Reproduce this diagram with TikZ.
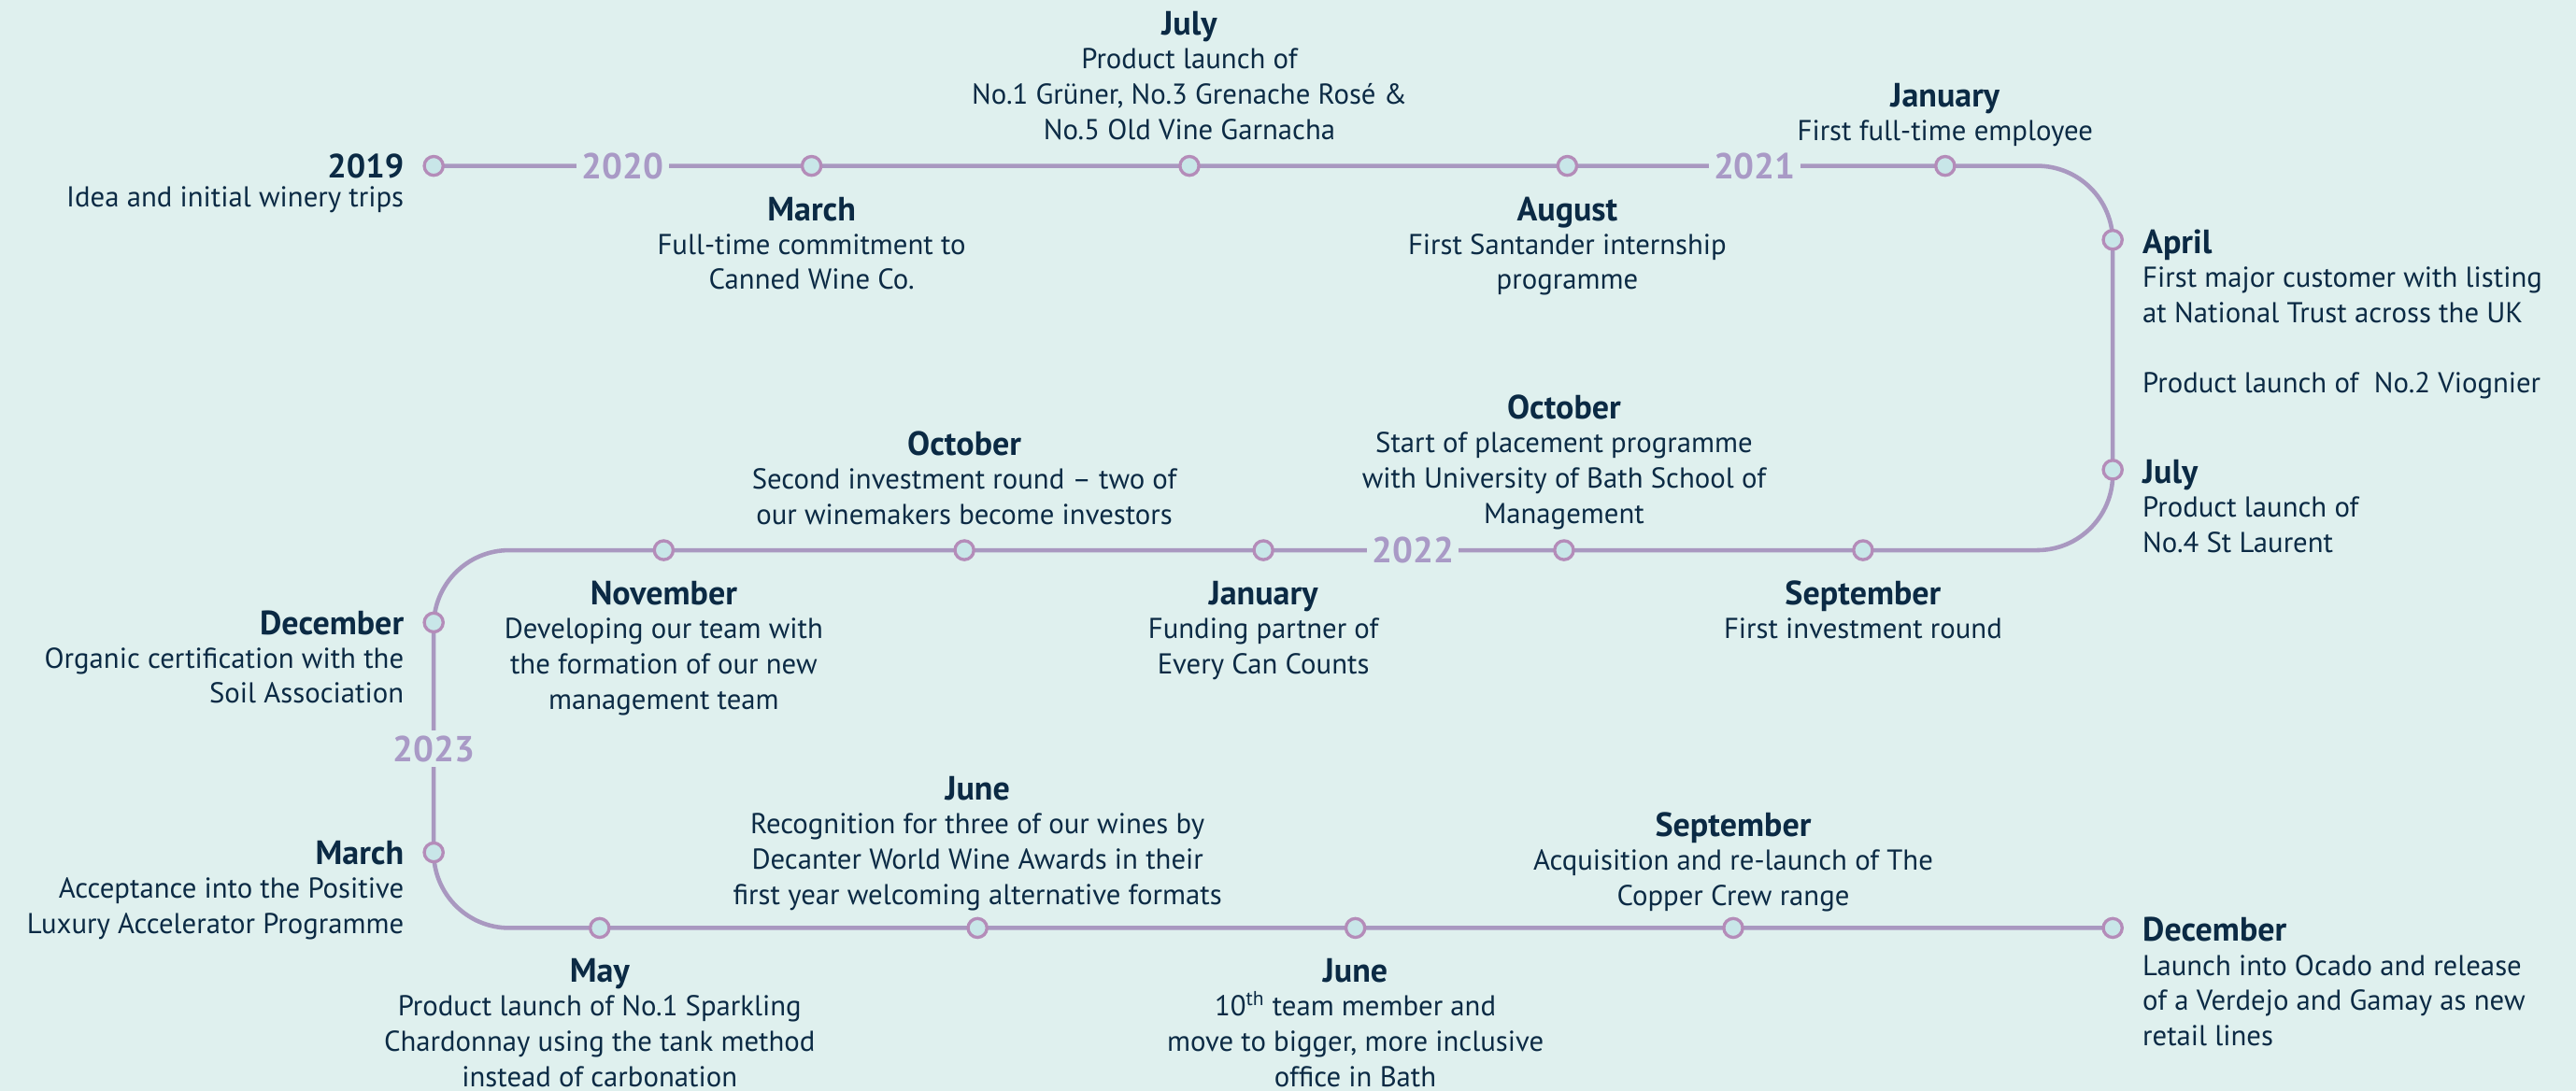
\documentclass[tikz,border=0pt]{standalone}
\usepackage{fontspec}
\setmainfont{PT Sans}
\usetikzlibrary{backgrounds}
\definecolor{bgc}{RGB}{223,240,238}
\definecolor{linec}{RGB}{169,152,192}
\definecolor{ringc}{RGB}{180,140,185}
\definecolor{dotc}{RGB}{200,230,232}
\definecolor{txtc}{RGB}{11,42,68}
\definecolor{yearc}{RGB}{169,154,198}
\newcommand{\ttl}[1]{{\fontsize{20.5}{21.5}\selectfont\bfseries #1}}
\newcommand{\tb}{\\[-1pt]}
\tikzset{
  tl/.style={draw=linec, line width=2.6pt, rounded corners=46pt},
  dot/.style={circle, draw=ringc, fill=dotc, line width=1.9pt, minimum width=10pt, minimum height=11.5pt, inner sep=0pt},
  yr/.style={fill=bgc, text=yearc, font=\fontsize{22}{24}\selectfont\bfseries, inner sep=3pt},
  ev/.style={text=txtc, inner sep=0pt, font=\fontsize{17.5}{21.5}\selectfont},
  evc/.style={ev, align=center, anchor=north},
  evl/.style={ev, align=left, anchor=north west},
  evr/.style={ev, align=right, anchor=north east},
}
\begin{document}
\begin{tikzpicture}[x=1pt,y=-1pt]
\useasboundingbox (0,0) rectangle (1568,664);
% dots
\node[dot] (c2019) at (264,101) {};
\node[dot] (cMar20) at (494,101) {};
\node[dot] (cJul20) at (724,101) {};
\node[dot] (cAug20) at (954,101) {};
\node[dot] (cJan21) at (1184,101) {};
\node[dot] (cApr21) at (1286,146) {};
\node[dot] (cJul21) at (1286,286) {};
\node[dot] (cSep21) at (1134,335) {};
\node[dot] (cOct21) at (952,335) {};
\node[dot] (cJan22) at (769,335) {};
\node[dot] (cOct22) at (587,335) {};
\node[dot] (cNov22) at (404,335) {};
\node[dot] (cDec22) at (264,379) {};
\node[dot] (cMar23) at (264,519) {};
\node[dot] (cMay23) at (365,565) {};
\node[dot] (cJun23a) at (595,565) {};
\node[dot] (cJun23b) at (825,565) {};
\node[dot] (cSep23) at (1055,565) {};
\node[dot] (cDec23) at (1286,565) {};
% years
\node[yr] (y2020) at (379,101) {2020};
\node[yr] (y2021) at (1068,101) {2021};
\node[yr] (y2022) at (860,335) {2022};
\node[yr] (y2023) at (264,456) {2023};
% corners
\coordinate (k1) at (1286,101);
\coordinate (k2) at (1286,335);
\coordinate (k3) at (264,335);
\coordinate (k4) at (264,565);
\begin{scope}[on background layer]
\fill[bgc] (0,0) rectangle (1568,664);
\draw[tl] (c2019.center) -- (k1) -- (k2) -- (k3) -- (k4) -- (cDec23.center);
\end{scope}
% events
\begin{scope}[yshift=-1pt]
\node[evr] (t2019) at (246,92) {\strut\ttl{2019}\\[-3.5pt]Idea and initial winery trips};
\node[evc] (tMar20) at (494,118) {\strut\ttl{March}\tb Full-time commitment to\\Canned Wine Co.};
\node[evc] (tJul20) at (724,5) {\strut\ttl{July}\tb Product launch of\\No.1 Grüner, No.3 Grenache Rosé \&\\No.5 Old Vine Garnacha};
\node[evc] (tAug20) at (954,118) {\strut\ttl{August}\tb First Santander internship\\programme};
\node[evc] (tJan21) at (1184,49) {\strut\ttl{January}\tb First full-time employee};
\node[evl] (tApr21) at (1304,138) {\strut\ttl{April}\tb First major customer with listing\\at National Trust across the UK\\[21.5pt]Product launch of\ \ No.2 Viognier};
\node[evl] (tJul21) at (1304,278) {\strut\ttl{July}\tb Product launch of\\No.4 St Laurent};
\node[evc] (tSep21) at (1134,352) {\strut\ttl{September}\tb First investment round};
\node[evc] (tOct21) at (952,239) {\strut\ttl{October}\tb Start of placement programme\\with University of Bath School of\\Management};
\node[evc] (tJan22) at (769,352) {\strut\ttl{January}\tb Funding partner of\\Every Can Counts};
\node[evc] (tOct22) at (587,261) {\strut\ttl{October}\tb Second investment round -- two of\\our winemakers become investors};
\node[evc] (tNov22) at (404,352) {\strut\ttl{November}\tb Developing our team with\\the formation of our new\\management team};
\node[evr] (tDec22) at (246,370) {\strut\ttl{December}\tb Organic certification with the\\Soil Association};
\node[evr] (tMar23) at (246,510) {\strut\ttl{March}\tb Acceptance into the Positive\\Luxury Accelerator Programme};
\node[evc] (tMay23) at (365,582) {\strut\ttl{May}\tb Product launch of No.1 Sparkling\\Chardonnay using the tank method\\instead of carbonation};
\node[evc] (tJun23a) at (595,471) {\strut\ttl{June}\tb Recognition for three of our wines by\\Decanter World Wine Awards in their\\first year welcoming alternative formats};
\node[evc] (tJun23b) at (825,582) {\strut\ttl{June}\tb 10\textsuperscript{th} team member and\\move to bigger, more inclusive\\office in Bath};
\node[evc] (tSep23) at (1055,493) {\strut\ttl{September}\tb Acquisition and re-launch of The\\Copper Crew range};
\node[evl] (tDec23) at (1304,557) {\strut\ttl{December}\tb Launch into Ocado and release\\of a Verdejo and Gamay as new\\retail lines};
\end{scope}
\end{tikzpicture}
\end{document}
